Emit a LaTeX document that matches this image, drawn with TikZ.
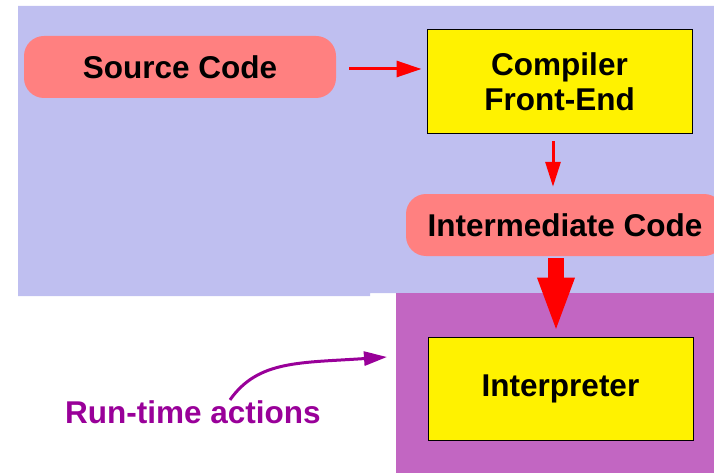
\documentclass[tikz,border=0pt]{standalone}
\usepackage{fontspec}
\setmainfont{Liberation Sans}
\usepackage{tikz}
\usetikzlibrary{arrows.meta}
\definecolor{lav}{RGB}{191,191,240}
\definecolor{violetbg}{RGB}{194,102,194}
\definecolor{pill}{RGB}{255,128,128}
\definecolor{runcol}{RGB}{153,0,153}
\tikzset{every node/.style={font=\fontsize{31.5}{35}\selectfont\bfseries, align=center}}
\tikzset{codepill/.style={fill=pill, rounded corners=20pt, minimum height=62pt}}
\tikzset{stagebox/.style={draw, line width=1pt, fill=yellow, minimum width=265pt, minimum height=104pt}}

\begin{document}
\begin{tikzpicture}[x=1pt, y=-1pt]
    \useasboundingbox (0,0) rectangle (714,473);
    % backgrounds
    \fill[lav] (18,6) -- (714,6) -- (714,293) -- (370,293) -- (370,296) -- (18,296) -- cycle;
    \fill[violetbg] (396,293) rectangle (714,473);

    \node[codepill, minimum width=312pt] at (180,67) (src) {Source Code};
    \node[stagebox] at (559.5,82) (front) {Compiler\\Front-End};
    \node[codepill, minimum width=318pt] at (565,225) (inter) {Intermediate Code};
    \node[stagebox, minimum height=103pt] at (560.5,388.5) (interp) {Interpreter};
    \node[text=runcol] at (193,412) (run) {Run-time actions};
    \coordinate (runtip) at (387,357);

    \draw[red, line width=3pt, -{Triangle[length=25pt,width=16pt]}, shorten <=13pt, shorten >=5pt]
        ([yshift=-2pt]src.east) -- ([yshift=-2pt]src.east -| front.west);
    \draw[red, line width=3pt, -{Triangle[length=25pt,width=15pt]}, shorten <=7pt, shorten >=7pt]
        ([xshift=-6.5pt]front.south) -- ([xshift=-12pt]inter.north);
    \draw[red, line width=16pt, -{Triangle[length=56pt,width=33pt]}, shorten <=2pt, shorten >=3pt]
        ([xshift=-9pt]inter.south) -- ([xshift=-4.5pt]interp.north);
    \draw[runcol, line width=3pt, -{Triangle[length=23pt,width=14pt]}]
        ([xshift=37pt,yshift=-3pt]run.north) .. controls (258,360) and (300,363) .. (runtip);
\end{tikzpicture}
\end{document}
